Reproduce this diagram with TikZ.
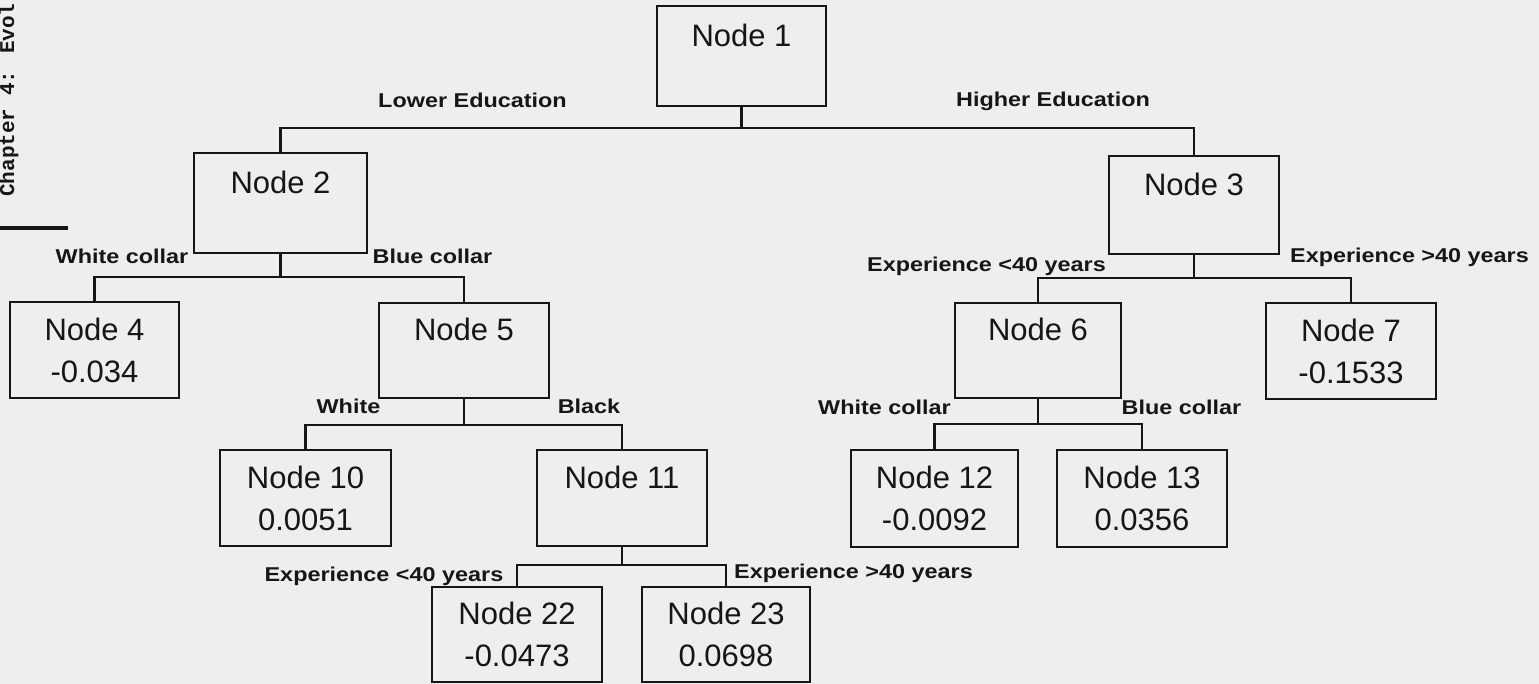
\documentclass[tikz,border=0pt]{standalone}
\usepackage{fontspec}
\usepackage{graphicx}
\setmainfont{Liberation Sans}
\newfontfamily\monofnt{Liberation Mono}
\definecolor{bg}{RGB}{238,238,238}
\definecolor{ink}{RGB}{22,22,22}
\newcommand\nodefnt{\fontsize{31}{42}\selectfont}
\newcommand\lblfnt{\bfseries\fontsize{20}{22}\selectfont}
\newcommand\lbltxt[1]{\scalebox{1.17}[1]{#1}}
\tikzset{
  box/.style={draw=ink, line width=2.6pt, inner sep=0pt, align=center, font=\nodefnt, text=ink},
  conn/.style={draw=ink, line width=2.6pt, line cap=rect},
  lbl/.style={font=\lblfnt, text=ink, inner sep=0pt, anchor=base},
}
\begin{document}
\begin{tikzpicture}[x=1pt,y=-1pt]
\fill[bg] (0,0) rectangle (1539,684);
\useasboundingbox (0,0) rectangle (1539,684);

% margin marks of the scanned page
\node[rotate=90, anchor=base west, font=\monofnt\bfseries\fontsize{21}{21}\selectfont, text=ink, inner sep=0pt] (chap) at (14,197) {Chapter 4: Evol};
\draw[ink, line width=4pt] (0,228) -- (68,228);

% boxes
\node[box, minimum width=169pt, minimum height=100pt] (n1) at (741.5,56) {Node 1\\\phantom{0}};
\node[box, minimum width=173pt, minimum height=100pt] (n2) at (280.5,203) {Node 2\\\phantom{0}};
\node[box, minimum width=170pt, minimum height=98pt] (n3) at (1194,205) {Node 3\\\phantom{0}};
\node[box, minimum width=169pt, minimum height=96pt] (n4) at (94.5,350) {Node 4\\-0.034};
\node[box, minimum width=170pt, minimum height=95pt] (n5) at (464,350.5) {Node 5\\\phantom{0}};
\node[box, minimum width=166pt, minimum height=95pt] (n6) at (1038,350.5) {Node 6\\\phantom{0}};
\node[box, minimum width=170pt, minimum height=96pt] (n7) at (1351,351) {Node 7\\-0.1533};
\node[box, minimum width=171pt, minimum height=96pt] (n10) at (305.5,498) {Node 10\\0.0051};
\node[box, minimum width=170pt, minimum height=96pt] (n11) at (622,498) {Node 11\\\phantom{0}};
\node[box, minimum width=167pt, minimum height=97pt] (n12) at (934.5,498.5) {Node 12\\-0.0092};
\node[box, minimum width=170pt, minimum height=97pt] (n13) at (1142,498.5) {Node 13\\0.0356};
\node[box, minimum width=170pt, minimum height=95pt] (n22) at (517,634.5) {Node 22\\-0.0473};
\node[box, minimum width=168pt, minimum height=95pt] (n23) at (726,634.5) {Node 23\\0.0698};

% junctions
\coordinate (j1) at (741.5,128);
\coordinate (j2) at (280.5,277);
\coordinate (j3) at (1194,278);
\coordinate (j5) at (464,425);
\coordinate (j6) at (1038,424);
\coordinate (j11) at (622,565);

% connectors
\draw[conn] (n1.south) -- (j1);
\draw[conn] (n2.north) |- (j1) -| (n3.north);
\draw[conn] (n2.south) -- (j2);
\draw[conn] (n4.north) |- (j2) -| (n5.north);
\draw[conn] (n3.south) -- (j3);
\draw[conn] (n6.north) |- (j3) -| (n7.north);
\draw[conn] (n5.south) -- (j5);
\draw[conn] (n10.north) |- (j5) -| (n11.north);
\draw[conn] (n6.south) -- (j6);
\draw[conn] (n12.north) |- (j6) -| (n13.north);
\draw[conn] (n11.south) -- (j11);
\draw[conn] (n22.north) |- (j11) -| (n23.north);

% branch labels
\node[lbl] (l1) at (472.5,108) {\lbltxt{Lower Education}};
\node[lbl] (l2) at (1053,107) {\lbltxt{Higher Education}};
\node[lbl] (l3) at (122,264) {\lbltxt{White collar}};
\node[lbl] (l4) at (432.5,264) {\lbltxt{Blue collar}};
\node[lbl] (l5) at (986.5,272) {\lbltxt{Experience <40 years}};
\node[lbl] (l6) at (1409.5,263) {\lbltxt{Experience >40 years}};
\node[lbl] (l7) at (348.5,413) {\lbltxt{White}};
\node[lbl] (l8) at (589,413) {\lbltxt{Black}};
\node[lbl] (l9) at (884.5,414) {\lbltxt{White collar}};
\node[lbl] (l10) at (1181.5,414) {\lbltxt{Blue collar}};
\node[lbl] (l11) at (384,581) {\lbltxt{Experience <40 years}};
\node[lbl] (l12) at (853.5,578) {\lbltxt{Experience >40 years}};
\end{tikzpicture}
\end{document}
